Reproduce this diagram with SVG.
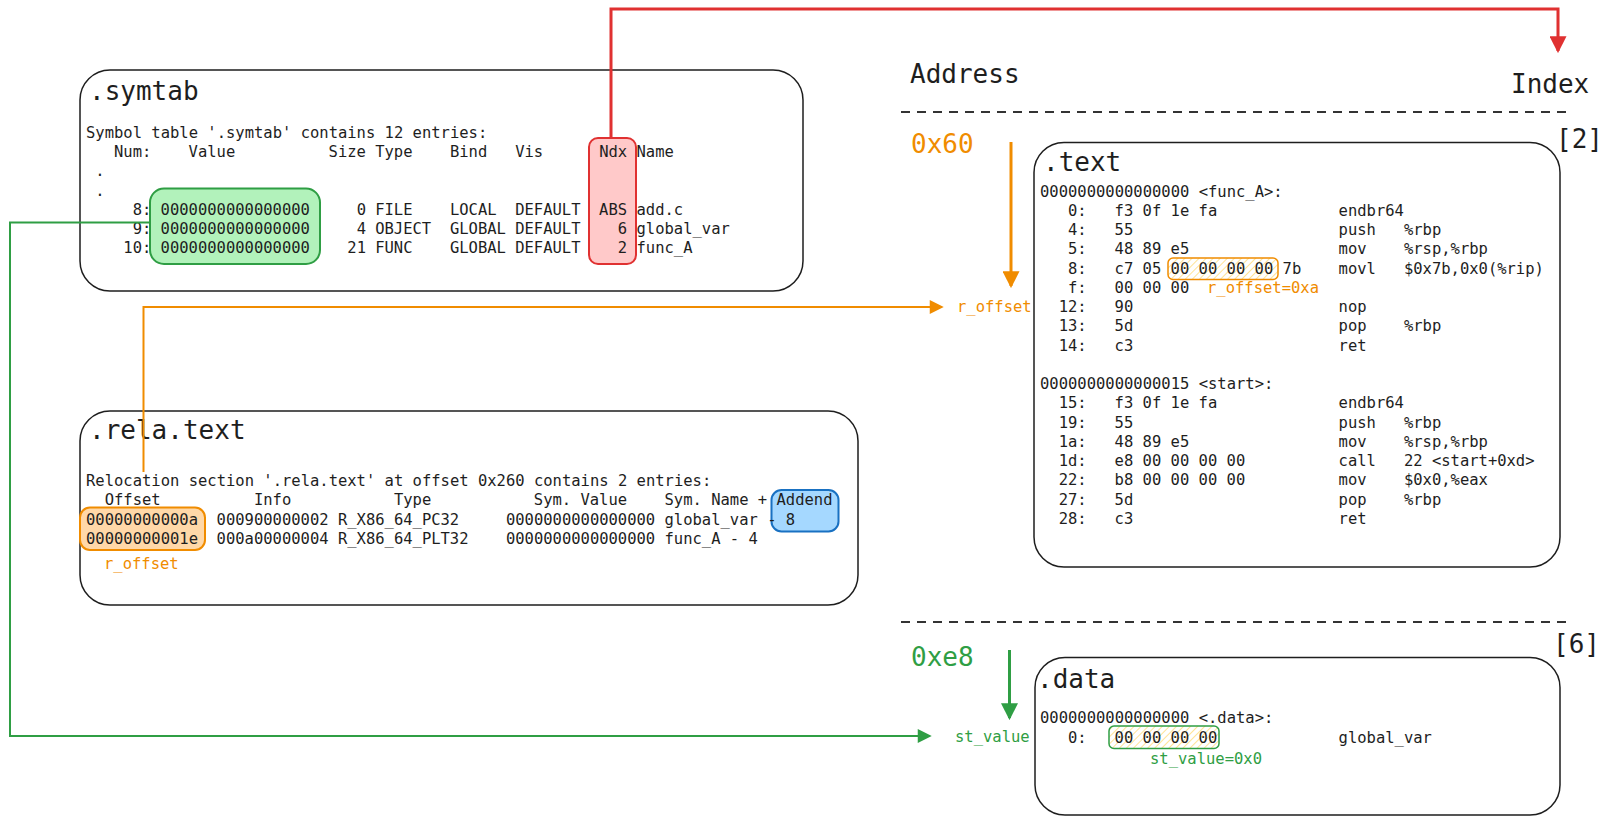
<svg xmlns="http://www.w3.org/2000/svg" width="1610" height="826" viewBox="0 0 1610 826" xml:space="preserve">
<defs>
<style>
.m{font-family:"DejaVu Sans Mono","Liberation Mono",monospace;font-size:15.5px;fill:#1e1e1e}
.t{font-family:"DejaVu Sans Mono","Liberation Mono",monospace;font-size:26px;fill:#1e1e1e}
.box{fill:none;stroke:#1e1e1e;stroke-width:1.5}
.or{fill:#f08c00}
.gr{fill:#2f9e44}
.e{text-anchor:end}
.dash{stroke:#333;stroke-width:2;stroke-dasharray:9 7;fill:none}
</style>
<pattern id="hatch" width="5" height="5" patternUnits="userSpaceOnUse" patternTransform="rotate(45)">
<line x1="0" y1="0" x2="0" y2="5" stroke="#ffe08a" stroke-width="1.8"/>
</pattern>
<marker id="ah-red" viewBox="0 0 16 16" refX="14" refY="8" markerWidth="17" markerHeight="17" markerUnits="userSpaceOnUse" orient="auto"><path d="M0,0 L16,8 L0,16 z" fill="#e03131"/></marker>
<marker id="ah-or" viewBox="0 0 16 16" refX="14" refY="8" markerWidth="17" markerHeight="17" markerUnits="userSpaceOnUse" orient="auto"><path d="M0,0 L16,8 L0,16 z" fill="#f08c00"/></marker>
<marker id="ah-or-s" viewBox="0 0 16 16" refX="14" refY="8" markerWidth="15" markerHeight="14" markerUnits="userSpaceOnUse" orient="auto"><path d="M0,0 L16,8 L0,16 z" fill="#f08c00"/></marker>
<marker id="ah-gr" viewBox="0 0 16 16" refX="14" refY="8" markerWidth="17" markerHeight="17" markerUnits="userSpaceOnUse" orient="auto"><path d="M0,0 L16,8 L0,16 z" fill="#2f9e44"/></marker>
<marker id="ah-gr-s" viewBox="0 0 16 16" refX="14" refY="8" markerWidth="15" markerHeight="14" markerUnits="userSpaceOnUse" orient="auto"><path d="M0,0 L16,8 L0,16 z" fill="#2f9e44"/></marker>
</defs>
<rect width="1610" height="826" fill="#ffffff"/>

<g id="symtab">
<rect class="box" x="80" y="70" width="723" height="221" rx="30"/>
<rect x="150" y="188.5" width="170" height="75.5" rx="14" fill="#b2f2bb" stroke="#2f9e44" stroke-width="2"/>
<rect x="589" y="138" width="47" height="126" rx="9" fill="#ffc9c9" stroke="#e03131" stroke-width="2"/>
<text class="t" x="89" y="100">.symtab</text>
<text class="m" x="86" y="137.9">Symbol table '.symtab' contains 12 entries:</text>
<text class="m" y="157.1"><tspan x="114">Num:</tspan><tspan x="188.6">Value</tspan><tspan x="328.6">Size</tspan><tspan x="375.2">Type</tspan><tspan x="449.9">Bind</tspan><tspan x="515.2">Vis</tspan><tspan x="599.2">Ndx</tspan><tspan x="636.5">Name</tspan></text>
<text class="m" x="95.3" y="176.3">.</text>
<text class="m" x="95.3" y="195.5">.</text>
<text class="m" y="214.7"><tspan class="e" x="151.3">8:</tspan><tspan x="160.6">0000000000000000</tspan><tspan class="e" x="366">0</tspan><tspan x="375.2">FILE</tspan><tspan x="449.9">LOCAL</tspan><tspan x="515.2">DEFAULT</tspan><tspan class="e" x="627.1">ABS</tspan><tspan x="636.5">add.c</tspan></text>
<text class="m" y="233.9"><tspan class="e" x="151.3">9:</tspan><tspan x="160.6">0000000000000000</tspan><tspan class="e" x="366">4</tspan><tspan x="375.2">OBJECT</tspan><tspan x="449.9">GLOBAL</tspan><tspan x="515.2">DEFAULT</tspan><tspan class="e" x="627.1">6</tspan><tspan x="636.5">global_var</tspan></text>
<text class="m" y="253.2"><tspan class="e" x="151.3">10:</tspan><tspan x="160.6">0000000000000000</tspan><tspan class="e" x="366">21</tspan><tspan x="375.2">FUNC</tspan><tspan x="449.9">GLOBAL</tspan><tspan x="515.2">DEFAULT</tspan><tspan class="e" x="627.1">2</tspan><tspan x="636.5">func_A</tspan></text>
</g>

<g id="rela-text">
<rect class="box" x="80" y="411" width="778" height="194" rx="30"/>
<rect x="80" y="507.5" width="125" height="42.5" rx="10" fill="#ffd8a8" stroke="#f08c00" stroke-width="2"/>
<rect x="771.5" y="490" width="67" height="41.5" rx="10" fill="#a5d8ff" stroke="#1971c2" stroke-width="2"/>
<text class="t" x="89" y="439">.rela.text</text>
<text class="m" x="86" y="486.2">Relocation section '.rela.text' at offset 0x260 contains 2 entries:</text>
<text class="m" y="505.4"><tspan x="104.7">Offset</tspan><tspan x="253.9">Info</tspan><tspan x="393.9">Type</tspan><tspan x="533.8">Sym. Value</tspan><tspan x="664.5">Sym. Name + Addend</tspan></text>
<text class="m" y="524.6"><tspan x="86">00000000000a</tspan><tspan x="216.6">000900000002</tspan><tspan x="337.9">R_X86_64_PC32</tspan><tspan x="505.9">0000000000000000</tspan><tspan x="664.5">global_var - 8</tspan></text>
<text class="m" y="543.8"><tspan x="86">00000000001e</tspan><tspan x="216.6">000a00000004</tspan><tspan x="337.9">R_X86_64_PLT32</tspan><tspan x="505.9">0000000000000000</tspan><tspan x="664.5">func_A - 4</tspan></text>
<text class="m or" x="104" y="568.5">r_offset</text>
</g>

<g id="layout-headers">
<text class="t" x="910" y="83">Address</text>
<text class="t" x="1511" y="93">Index</text>
<line class="dash" x1="901" y1="112" x2="1573" y2="112"/>
<line class="dash" x1="901" y1="622" x2="1573" y2="622"/>
<text class="t" x="1556" y="148">[2]</text>
<text class="t" x="1553" y="653">[6]</text>
<text class="t or" x="911" y="153">0x60</text>
<text class="t gr" x="911" y="666">0xe8</text>
<text class="m or" x="957" y="311.5">r_offset</text>
<text class="m gr" x="955" y="742.2">st_value</text>
</g>

<g id="section-text">
<rect class="box" x="1034" y="142.5" width="526" height="424.5" rx="30"/>
<rect x="1168" y="258" width="110" height="21.5" rx="5" fill="url(#hatch)" stroke="#f08c00" stroke-width="1.5"/>
<text class="t" x="1043" y="171">.text</text>
<text class="m" x="1040" y="196.7">0000000000000000 &lt;func_A&gt;:</text>
<text class="m" y="215.95"><tspan class="e" x="1086.7">0:</tspan><tspan x="1114.6">f3 0f 1e fa</tspan><tspan x="1338.6">endbr64</tspan></text>
<text class="m" y="235.2"><tspan class="e" x="1086.7">4:</tspan><tspan x="1114.6">55</tspan><tspan x="1338.6">push</tspan><tspan x="1403.9">%rbp</tspan></text>
<text class="m" y="254.45"><tspan class="e" x="1086.7">5:</tspan><tspan x="1114.6">48 89 e5</tspan><tspan x="1338.6">mov</tspan><tspan x="1403.9">%rsp,%rbp</tspan></text>
<text class="m" y="273.7"><tspan class="e" x="1086.7">8:</tspan><tspan x="1114.6">c7 05 00 00 00 00 7b</tspan><tspan x="1338.6">movl</tspan><tspan x="1403.9">$0x7b,0x0(%rip)</tspan></text>
<text class="m" y="292.95"><tspan class="e" x="1086.7">f:</tspan><tspan x="1114.6">00 00 00</tspan></text>
<text class="m or" x="1207" y="292.95">r_offset=0xa</text>
<text class="m" y="312.2"><tspan class="e" x="1086.7">12:</tspan><tspan x="1114.6">90</tspan><tspan x="1338.6">nop</tspan></text>
<text class="m" y="331.45"><tspan class="e" x="1086.7">13:</tspan><tspan x="1114.6">5d</tspan><tspan x="1338.6">pop</tspan><tspan x="1403.9">%rbp</tspan></text>
<text class="m" y="350.7"><tspan class="e" x="1086.7">14:</tspan><tspan x="1114.6">c3</tspan><tspan x="1338.6">ret</tspan></text>
<text class="m" x="1040" y="389.2">0000000000000015 &lt;start&gt;:</text>
<text class="m" y="408.45"><tspan class="e" x="1086.7">15:</tspan><tspan x="1114.6">f3 0f 1e fa</tspan><tspan x="1338.6">endbr64</tspan></text>
<text class="m" y="427.7"><tspan class="e" x="1086.7">19:</tspan><tspan x="1114.6">55</tspan><tspan x="1338.6">push</tspan><tspan x="1403.9">%rbp</tspan></text>
<text class="m" y="446.95"><tspan class="e" x="1086.7">1a:</tspan><tspan x="1114.6">48 89 e5</tspan><tspan x="1338.6">mov</tspan><tspan x="1403.9">%rsp,%rbp</tspan></text>
<text class="m" y="466.2"><tspan class="e" x="1086.7">1d:</tspan><tspan x="1114.6">e8 00 00 00 00</tspan><tspan x="1338.6">call</tspan><tspan x="1403.9">22 &lt;start+0xd&gt;</tspan></text>
<text class="m" y="485.45"><tspan class="e" x="1086.7">22:</tspan><tspan x="1114.6">b8 00 00 00 00</tspan><tspan x="1338.6">mov</tspan><tspan x="1403.9">$0x0,%eax</tspan></text>
<text class="m" y="504.7"><tspan class="e" x="1086.7">27:</tspan><tspan x="1114.6">5d</tspan><tspan x="1338.6">pop</tspan><tspan x="1403.9">%rbp</tspan></text>
<text class="m" y="523.95"><tspan class="e" x="1086.7">28:</tspan><tspan x="1114.6">c3</tspan><tspan x="1338.6">ret</tspan></text>
</g>

<g id="section-data">
<rect class="box" x="1035" y="657.5" width="525" height="157.5" rx="30"/>
<rect x="1109" y="726" width="110" height="22.5" rx="5" fill="url(#hatch)" stroke="#2f9e44" stroke-width="1.5"/>
<text class="t" x="1037" y="688">.data</text>
<text class="m" x="1040" y="722.9">0000000000000000 &lt;.data&gt;:</text>
<text class="m" y="742.9"><tspan class="e" x="1086.7">0:</tspan><tspan x="1114.6">00 00 00 00</tspan><tspan x="1338.6">global_var</tspan></text>
<text class="m gr" x="1150" y="763.5">st_value=0x0</text>
</g>

<g id="connectors" fill="none">
<path d="M611,138 V9 H1558 V51" stroke="#e03131" stroke-width="3" marker-end="url(#ah-red)"/>
<path d="M143.5,472 V307 H942" stroke="#f08c00" stroke-width="2" marker-end="url(#ah-or-s)"/>
<path d="M1011,142 V286" stroke="#f08c00" stroke-width="3" marker-end="url(#ah-or)"/>
<path d="M150,222.5 H10 V736 H930" stroke="#2f9e44" stroke-width="2" marker-end="url(#ah-gr-s)"/>
<path d="M1009.5,650 V718" stroke="#2f9e44" stroke-width="3" marker-end="url(#ah-gr)"/>
</g>
</svg>
